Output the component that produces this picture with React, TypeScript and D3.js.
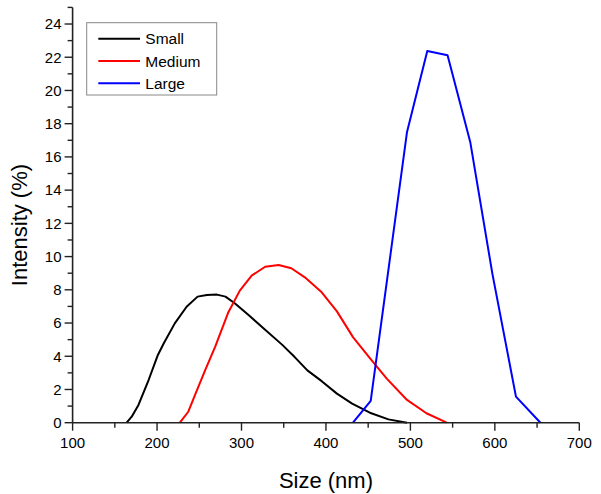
import React from "react";
import * as d3 from "d3";

const smallX = [164, 170, 178, 190, 201, 208, 221, 235, 248, 259, 271, 281, 292, 308, 328, 348, 363, 378, 395, 413, 431, 452, 474, 496];
const smallY = [0, 0.36, 1.07, 2.57, 4.08, 4.78, 5.98, 6.98, 7.59, 7.69, 7.71, 7.59, 7.19, 6.5, 5.6, 4.7, 3.95, 3.15, 2.5, 1.75, 1.15, 0.6, 0.2, 0];

const mediumX = [227, 237, 245, 257, 269, 284, 298, 312, 328, 344, 359, 375, 395, 413, 432, 452, 472, 496, 519, 543];
const mediumY = [0, 0.66, 1.67, 3.17, 4.6, 6.6, 7.95, 8.85, 9.39, 9.49, 9.3, 8.75, 7.85, 6.7, 5.15, 3.88, 2.65, 1.37, 0.57, 0];

const largeX = [432, 453, 496, 520, 544, 571, 597, 625, 654];
const largeY = [0, 1.31, 17.5, 22.38, 22.12, 16.86, 8.99, 1.57, 0];

const seriesNames = ["Small", "Medium", "Large"];
const seriesColors = ["#000000", "#ff0000", "#0000ff"];

const xMajorTicks = [100, 200, 300, 400, 500, 600, 700];
const xMinorTicks = [150, 250, 350, 450, 550, 650];
const yMajorTicks = [0, 2, 4, 6, 8, 10, 12, 14, 16, 18, 20, 22, 24];
const yMinorTicks = [1, 3, 5, 7, 9, 11, 13, 15, 17, 19, 21, 23, 25];

const FONT = "'Liberation Sans', Arial, Helvetica, sans-serif";

export default function App() {
  const x = d3.scaleLinear().domain([100, 700]).range([72.6, 579.3]);
  const y = d3.scaleLinear().domain([0, 25]).range([422.7, 7.4]);

  const series = [
    { xs: smallX, ys: smallY },
    { xs: mediumX, ys: mediumY },
    { xs: largeX, ys: largeY },
  ];

  const line = d3
    .line<[number, number]>()
    .x((d) => x(d[0]))
    .y((d) => y(d[1]));

  const x0 = x(100);
  const y0 = y(0);
  const axisColor = "#222";

  return (
    <div style={{ position: "fixed", left: 0, top: 0 }}>
      <svg width={601} height={494} style={{ display: "block", background: "#fff" }} fontFamily={FONT}>
        <rect x={0} y={0} width={601} height={494} fill="#fff" />
        {series.map((s, i) => (
          <path
            key={i}
            d={line(s.xs.map((v, j) => [v, s.ys[j]] as [number, number])) || ""}
            fill="none"
            stroke={seriesColors[i]}
            strokeWidth={2}
            strokeLinejoin="round"
          />
        ))}
        {/* axes */}
        <line x1={x0} x2={x(700)} y1={y0} y2={y0} stroke={axisColor} strokeWidth={1.6} />
        <line x1={x0} x2={x0} y1={y0} y2={y(25)} stroke={axisColor} strokeWidth={1.6} />
        {xMajorTicks.map((t) => (
          <g key={"xm" + t}>
            <line x1={x(t)} x2={x(t)} y1={y0} y2={y0 + 8} stroke={axisColor} strokeWidth={1.4} />
            <text x={x(t)} y={448} textAnchor="middle" fontSize={15} fill="#000">
              {t}
            </text>
          </g>
        ))}
        {xMinorTicks.map((t) => (
          <line key={"xn" + t} x1={x(t)} x2={x(t)} y1={y0} y2={y0 + 5} stroke={axisColor} strokeWidth={1.4} />
        ))}
        {yMajorTicks.map((t) => (
          <g key={"ym" + t}>
            <line x1={x0 - 8} x2={x0} y1={y(t)} y2={y(t)} stroke={axisColor} strokeWidth={1.4} />
            <text x={61.5} y={y(t) + 5.3} textAnchor="end" fontSize={15} fill="#000">
              {t}
            </text>
          </g>
        ))}
        {yMinorTicks.map((t) => (
          <line key={"yn" + t} x1={x0 - 5} x2={x0} y1={y(t)} y2={y(t)} stroke={axisColor} strokeWidth={1.4} />
        ))}
        <text x={(x0 + x(700)) / 2} y={488} textAnchor="middle" fontSize={22} fill="#000">
          Size (nm)
        </text>
        <text
          transform={`translate(27, ${(y0 + y(25)) / 2 + 10}) rotate(-90)`}
          textAnchor="middle"
          fontSize={22}
          fill="#000"
        >
          Intensity (%)
        </text>
        {/* legend */}
        <rect x={86.7} y={22.7} width={130} height={72.3} fill="#fff" stroke="#888" strokeWidth={1} />
        {seriesNames.map((n, i) => (
          <g key={n}>
            <line x1={98.3} x2={140} y1={38.7 + i * 22.3} y2={38.7 + i * 22.3} stroke={seriesColors[i]} strokeWidth={2} />
            <text x={145.3} y={38.7 + i * 22.3 + 5.5} fontSize={15.5} fill="#000">
              {n}
            </text>
          </g>
        ))}
      </svg>
    </div>
  );
}
